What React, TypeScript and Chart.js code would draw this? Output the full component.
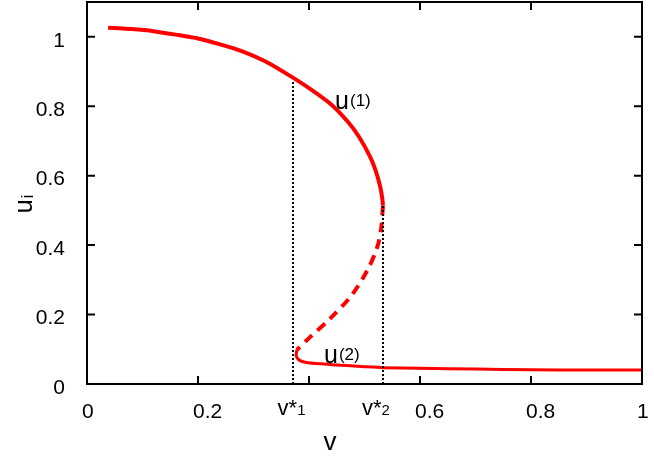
import React, { useEffect, useRef } from 'react';
import { Chart, registerables } from 'chart.js';

Chart.register(...registerables);

// ---- data ----
const UPPER_V = [0.038, 0.08, 0.12, 0.16, 0.2, 0.24, 0.28, 0.32, 0.36, 0.40, 0.44, 0.47, 0.49, 0.51, 0.52, 0.528, 0.532, 0.5333];
const UPPER_U = [1.026, 1.022, 1.016, 1.006, 0.995, 0.978, 0.958, 0.93, 0.893, 0.852, 0.805, 0.755, 0.712, 0.655, 0.615, 0.57, 0.535, 0.514];

const MIDDLE_V = [0.5333, 0.530, 0.523, 0.506, 0.477, 0.438, 0.40, 0.378];
const MIDDLE_U = [0.514, 0.448, 0.394, 0.330, 0.256, 0.188, 0.132, 0.098];

const LOWER_V = [0.378, 0.377, 0.383, 0.395, 0.42, 0.45, 0.5, 0.533, 0.6, 0.7, 0.8, 0.9, 1.0];
const LOWER_U = [0.098, 0.08, 0.068, 0.062, 0.058, 0.055, 0.05, 0.047, 0.045, 0.043, 0.041, 0.04, 0.04];

const V_STAR = [0.3712, 0.5333];
const V_STAR_TOP_U = [0.874, 0.514];
const V_STAR_NAMES = ['1', '2'];
const V_STAR_LABEL_CENTER = [0.3685, 0.5207];

const X_TICKS = [0, 0.2, 0.4, 0.6, 0.8, 1];
const X_TICK_LABELS = ['0', '0.2', '', '0.6', '0.8', '1'];
const Y_TICKS = [0, 0.2, 0.4, 0.6, 0.8, 1];
const Y_TICK_LABELS = ['0', '0.2', '0.4', '0.6', '0.8', '1'];

const X_MIN = 0;
const X_MAX = 1;
const Y_MIN = 0;
const Y_MAX = 1.1;

// curve labels: [text, sub, v, u]
const CURVE_LABELS: [string, string, number, number][] = [
  ['u', '(1)', 0.447, 0.793],
  ['u', '(2)', 0.427, 0.06],
];

const FONT = "'Liberation Sans', Arial, Helvetica, sans-serif";
const RED = '#ff0000';

const zip = (xs: number[], ys: number[]) => xs.map((x, i) => ({ x, y: ys[i] }));

const decorPlugin = {
  id: 'decor',
  afterDraw(chart: any) {
    const { ctx, chartArea: a, scales } = chart;
    const xs = scales.x;
    const ys = scales.y;
    const TICK = 8;
    ctx.save();
    ctx.strokeStyle = '#000';
    ctx.lineWidth = 2;
    ctx.strokeRect(a.left, a.top, a.right - a.left, a.bottom - a.top);
    ctx.beginPath();
    X_TICKS.forEach((v) => {
      const px = xs.getPixelForValue(v);
      ctx.moveTo(px, a.bottom);
      ctx.lineTo(px, a.bottom - TICK);
      ctx.moveTo(px, a.top);
      ctx.lineTo(px, a.top + TICK);
    });
    Y_TICKS.forEach((v) => {
      const py = ys.getPixelForValue(v);
      ctx.moveTo(a.left, py);
      ctx.lineTo(a.left + TICK, py);
      ctx.moveTo(a.right, py);
      ctx.lineTo(a.right - TICK, py);
    });
    ctx.stroke();

    ctx.fillStyle = '#000';
    ctx.textBaseline = 'alphabetic';
    ctx.textAlign = 'left';

    // v*_1, v*_2 tick labels
    V_STAR_LABEL_CENTER.forEach((cv, i) => {
      ctx.font = `22px ${FONT}`;
      const main = 'v*';
      const wMain = ctx.measureText(main).width;
      ctx.font = `15px ${FONT}`;
      const wSub = ctx.measureText(V_STAR_NAMES[i]).width;
      const cx = xs.getPixelForValue(cv);
      const left = cx - (wMain + wSub) / 2;
      const base = a.bottom + 31;
      ctx.font = `22px ${FONT}`;
      ctx.fillText(main, left, base);
      ctx.font = `15px ${FONT}`;
      ctx.fillText(V_STAR_NAMES[i], left + wMain, base);
    });

    // curve labels
    CURVE_LABELS.forEach(([t, sub, v, u]) => {
      const px = xs.getPixelForValue(v);
      const py = ys.getPixelForValue(u);
      ctx.font = `25px ${FONT}`;
      ctx.fillText(t, px, py);
      const w = ctx.measureText(t).width;
      ctx.font = `17px ${FONT}`;
      ctx.fillText(sub, px + w + 1, py - 3);
    });

    // x title
    ctx.font = `26px ${FONT}`;
    ctx.textAlign = 'center';
    ctx.fillText('v', xs.getPixelForValue(0.438), a.bottom + 66);

    // y title (rotated)
    ctx.textAlign = 'left';
    ctx.translate(32, ys.getPixelForValue(0.492));
    ctx.rotate(-Math.PI / 2);
    ctx.font = `25px ${FONT}`;
    ctx.fillText('u', 0, 0);
    const wu = ctx.measureText('u').width;
    ctx.font = `16px ${FONT}`;
    ctx.fillText('i', wu + 1, 1);
    ctx.restore();
  },
};

const zeroPad = (s: any) => {
  s.paddingTop = 0;
  s.paddingBottom = 0;
  s.paddingLeft = 0;
  s.paddingRight = 0;
};

export default function App() {
  const ref = useRef<HTMLCanvasElement>(null);
  useEffect(() => {
    const canvas = ref.current;
    if (!canvas) return;
    const dotted = (i: number) => ({
      data: [
        { x: V_STAR[i], y: 0 },
        { x: V_STAR[i], y: V_STAR_TOP_U[i] },
      ],
      borderColor: '#000',
      borderWidth: 2,
      borderDash: [2, 2],
      pointRadius: 0,
      showLine: true,
      fill: false,
    });
    const chart = new Chart(canvas, {
      type: 'scatter',
      data: {
        datasets: [
          dotted(0),
          dotted(1),
          {
            data: zip(UPPER_V, UPPER_U),
            borderColor: RED,
            borderWidth: 4,
            pointRadius: 0,
            showLine: true,
            tension: 0.2,
          },
          {
            data: zip(MIDDLE_V, MIDDLE_U),
            borderColor: RED,
            borderWidth: 4,
            borderDash: [10, 7],
            pointRadius: 0,
            showLine: true,
            tension: 0.3,
          },
          {
            data: zip(LOWER_V, LOWER_U),
            borderColor: RED,
            borderWidth: 3,
            pointRadius: 0,
            showLine: true,
            tension: 0.2,
          },
        ] as any,
      },
      options: {
        animation: false,
        responsive: true,
        maintainAspectRatio: false,
        layout: { padding: { top: 2, right: 12, left: 0, bottom: 0 } },
        plugins: { legend: { display: false }, tooltip: { enabled: false } },
        scales: {
          x: {
            type: 'linear',
            min: X_MIN,
            max: X_MAX,
            grid: { display: false },
            border: { display: false },
            afterBuildTicks: (s: any) => {
              s.ticks = X_TICKS.map((value) => ({ value }));
            },
            afterFit: (s: any) => {
              s.height = 76;
              zeroPad(s);
            },
            ticks: {
              autoSkip: false,
              maxRotation: 0,
              padding: 8,
              align: 'start',
              labelOffset: -5,
              color: '#000',
              font: { family: FONT, size: 21 },
              callback: (_v: any, i: number) => X_TICK_LABELS[i],
            },
          },
          y: {
            type: 'linear',
            min: Y_MIN,
            max: Y_MAX,
            grid: { display: false },
            border: { display: false },
            afterBuildTicks: (s: any) => {
              s.ticks = Y_TICKS.map((value) => ({ value }));
            },
            afterFit: (s: any) => {
              s.width = 87;
              zeroPad(s);
            },
            ticks: {
              autoSkip: false,
              padding: 14,
              labelOffset: 4,
              color: '#000',
              font: { family: FONT, size: 21 },
              callback: (_v: any, i: number) => Y_TICK_LABELS[i],
            },
          },
        },
      } as any,
      plugins: [decorPlugin],
    });
    return () => chart.destroy();
  }, []);
  return (
    <div style={{ position: 'fixed', left: 0, top: 0, width: 654, height: 460, background: '#fff' }}>
      <canvas ref={ref} />
    </div>
  );
}
